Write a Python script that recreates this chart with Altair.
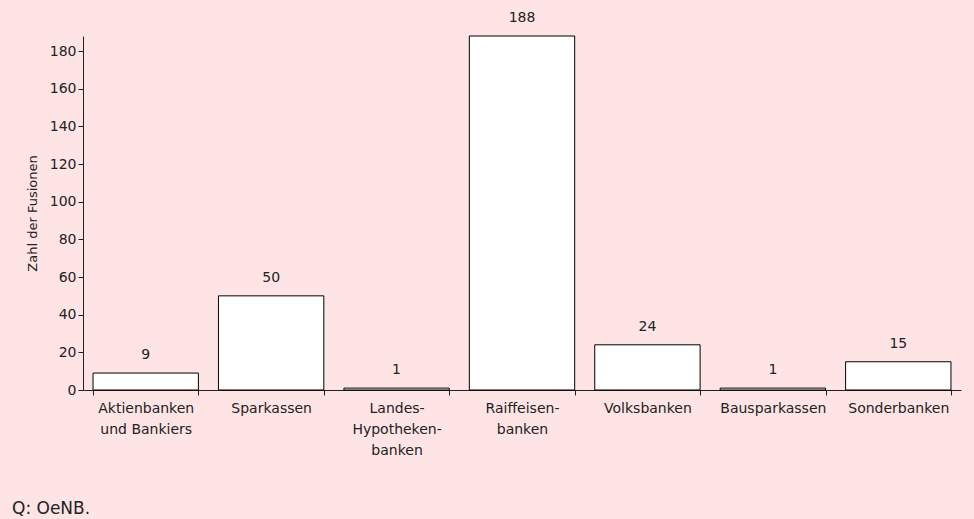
import altair as alt
import pandas as pd

categories = [
    "Aktienbanken|und Bankiers",
    "Sparkassen",
    "Landes-|Hypotheken-|banken",
    "Raiffeisen-|banken",
    "Volksbanken",
    "Bausparkassen",
    "Sonderbanken",
]
fusionen = [9, 50, 1, 188, 24, 1, 15]
y_ticks = [0, 20, 40, 60, 80, 100, 120, 140, 160, 180]

df = pd.DataFrame({"kategorie": categories, "fusionen": fusionen})

FONT = "DejaVu Sans"
BG = "#FEE4E5"

x_enc = alt.X(
    "kategorie:N",
    sort=None,
    scale=alt.Scale(paddingInner=0.16, paddingOuter=0.08),
    axis=alt.Axis(
        title=None,
        labelAngle=0,
        labelExpr="split(datum.label, '|')",
        tickBand="extent",
        labelLineHeight=21,
        labelPadding=6,
        labelFontSize=14,
        labelOverlap=False,
        tickSize=5,
    ),
)
y_enc = alt.Y(
    "fusionen:Q",
    scale=alt.Scale(domain=[0, 188], nice=False),
    axis=alt.Axis(
        title="Zahl der Fusionen",
        values=y_ticks,
        grid=False,
        tickSize=5,
        labelFontSize=14,
        labelOverlap=False,
        titleFontSize=13,
        titleFontWeight="normal",
        titlePadding=10,
    ),
)

base = alt.Chart(df).encode(x=x_enc, y=y_enc)

bars = base.mark_bar(fill="white", stroke="black", strokeWidth=1)
labels = base.mark_text(
    baseline="bottom", dy=-11, fontSize=14, font=FONT, color="#222222"
).encode(text="fusionen:Q")

chart = (
    alt.layer(bars, labels)
    .properties(
        width=878,
        height=354,
        padding={"left": 83, "top": 36, "right": 13, "bottom": 129},
        autosize=alt.AutoSizeParams(type="none"),
        background=BG,
        title=alt.TitleParams(
            "Q: OeNB.",
            orient="bottom",
            anchor="start",
            frame="group",
            dx=-71,
            offset=44,
            fontSize=17,
            fontWeight="normal",
            font=FONT,
            color="#222222",
        ),
    )
    .configure_view(stroke=None)
    .configure_axis(
        labelFont=FONT,
        titleFont=FONT,
        labelColor="#222222",
        titleColor="#222222",
        domainColor="#222222",
        tickColor="#222222",
    )
)

chart.save("out.html", embed_options={"renderer": "svg", "actions": False})
